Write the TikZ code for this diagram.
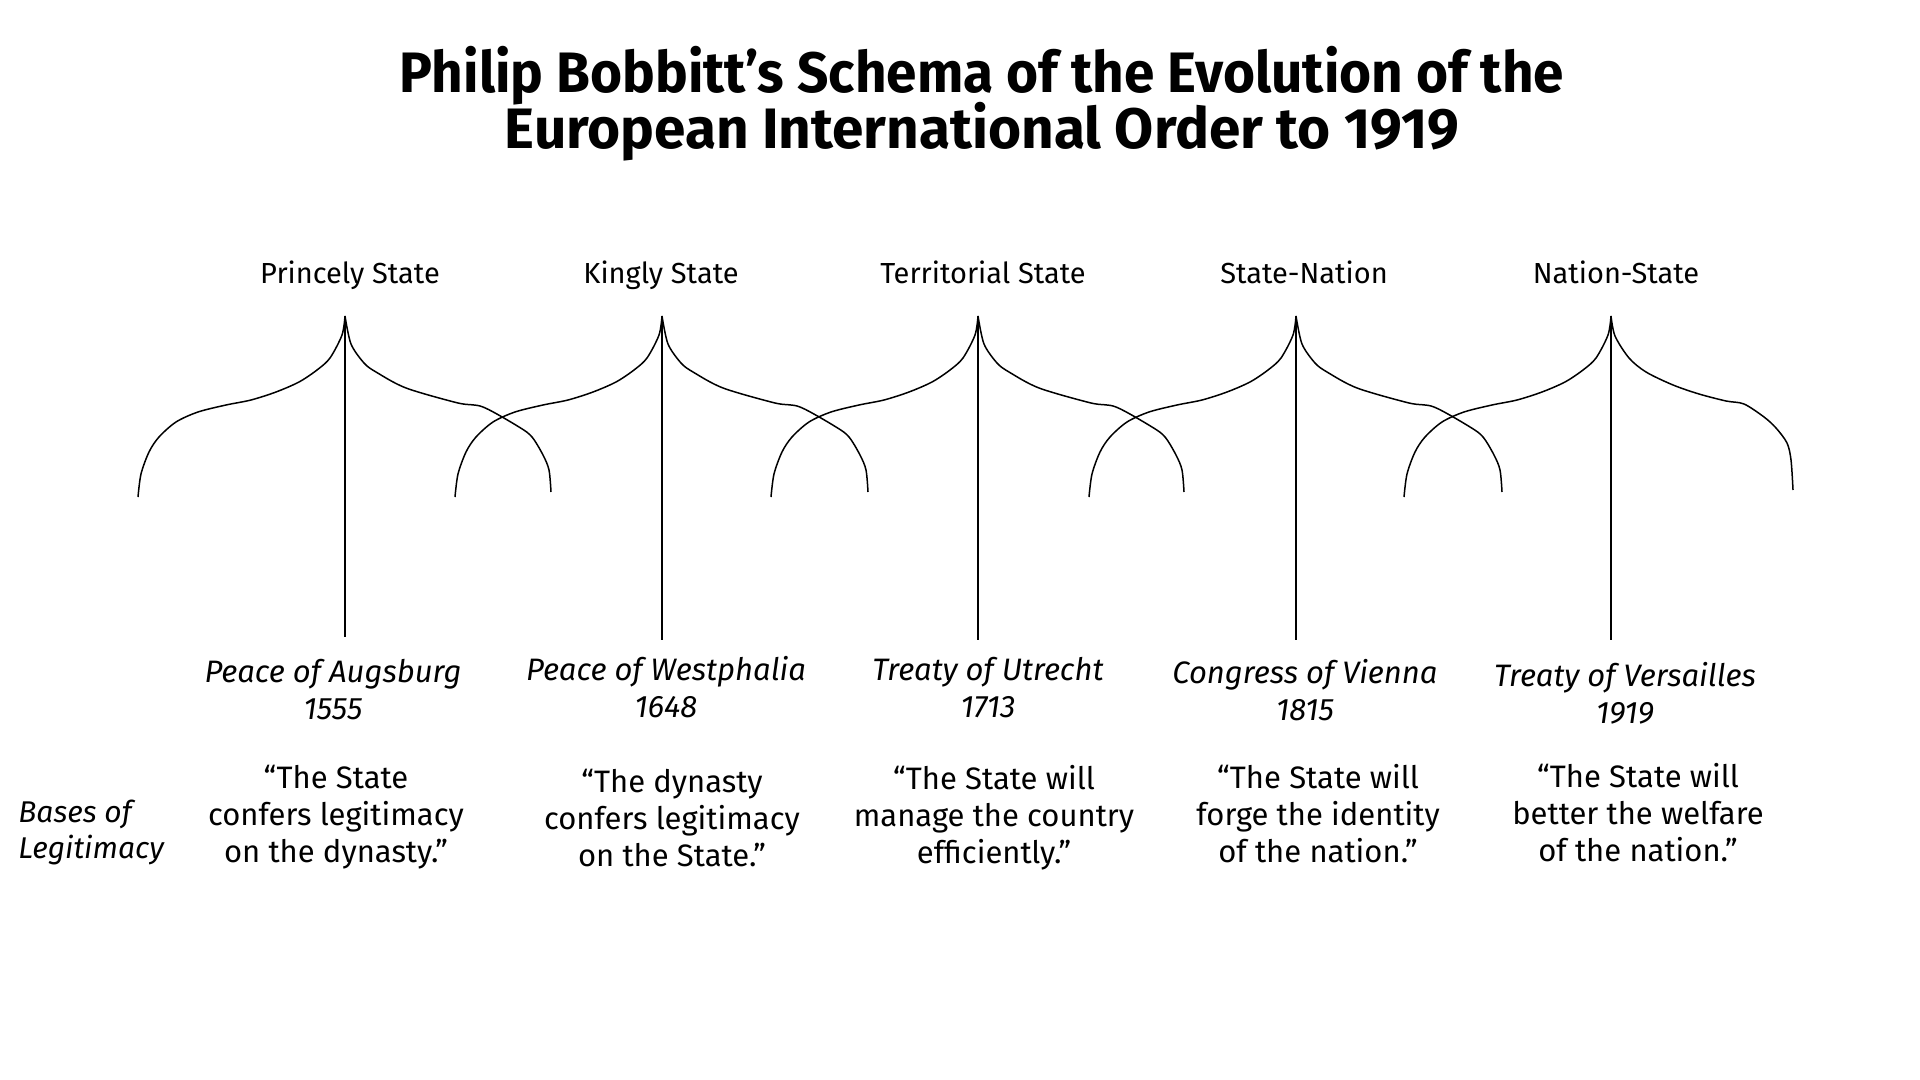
\documentclass[tikz,border=0pt]{standalone}
\usepackage{fontspec}
\setmainfont{Fira Sans}
\begin{document}
\begin{tikzpicture}[x=0.5pt,y=-0.5pt,
  titleline/.style={font=\fontsize{28.5}{34}\selectfont\bfseries, inner sep=0, anchor=base},
  toplabel/.style={font=\fontsize{14.5}{17}\selectfont, inner sep=0, anchor=base},
  event/.style={font=\fontsize{15.5}{18.5}\selectfont\itshape, align=center, inner sep=0},
  quote/.style={font=\fontsize{15.5}{18.5}\selectfont, align=center, inner sep=0},
  side/.style={font=\fontsize{15}{18}\selectfont\itshape, align=left, anchor=west, inner sep=0},
  stem/.style={line width=0.8pt},
  arm/.style={line width=0.75pt, line join=round}]
\useasboundingbox (0,0) rectangle (1920,1080);
\fill[white] (0,0) rectangle (1920,1080);

% title
\node[titleline] (t1) at (982,93) {\resizebox{582pt}{\height}{Philip Bobbitt’s Schema of the Evolution of the}};
\node[titleline] (t2) at (982,149) {\resizebox{477pt}{\height}{European International Order to 1919}};

% top labels
\node[toplabel] (l1) at (350,284) {Princely State};
\node[toplabel] (l2) at (661,284) {Kingly State};
\node[toplabel] (l3) at (983,284) {Territorial State};
\node[toplabel] (l4) at (1304,284) {State-Nation};
\node[toplabel] (l5) at (1616,284) {Nation-State};

% apexes and stem ends
\coordinate (a1) at (345,316); \coordinate (b1) at (345,637);
\coordinate (a2) at (662,316); \coordinate (b2) at (662,640);
\coordinate (a3) at (978,316); \coordinate (b3) at (978,640);
\coordinate (a4) at (1296,316); \coordinate (b4) at (1296,640);
\coordinate (a5) at (1611,316); \coordinate (b5) at (1611,640);

\foreach \i in {1,...,5} {
  \draw[stem] (a\i) -- (b\i);
  \draw[arm, shift={(a\i)}] plot[smooth, tension=0.5] coordinates {(0,0) (-3,19) (-15,42) (-28,54) (-46,66) (-69,76) (-94,84) (-119,89) (-147,96) (-169,106) (-186,121) (-196,136) (-204,158) (-207,181)};
}
\foreach \i in {1,...,4} {
  \draw[arm, shift={(a\i)}] plot[smooth, tension=0.5] coordinates {(0,0) (6,28) (19,47) (31,56) (61,72) (113,87) (138,91) (174,111) (187,121) (198,139) (204,154) (206,176)};
}
\draw[arm, shift={(a5)}] plot[smooth, tension=0.5] coordinates {(0,0) (4,20) (18,42) (35,56) (62,69) (88,78) (115,85) (133,88) (153,101) (165,112) (176,127) (180,144) (182,174)};

% events
\node[event] (e1) at (333,690) {Peace of Augsburg\\1555};
\node[event] (e2) at (666,687) {Peace of Westphalia\\1648};
\node[event] (e3) at (988,688) {Treaty of Utrecht\\1713};
\node[event] (e4) at (1305,690) {Congress of Vienna\\1815};
\node[event] (e5) at (1625,693) {Treaty of Versailles\\1919};

% quotes
\node[quote] (q1) at (336,817) {“The State\\confers legitimacy\\on the dynasty.”};
\node[quote] (q2) at (672,818) {“The dynasty\\confers legitimacy\\on the State.”};
\node[quote] (q3) at (994,818) {“The State will\\manage the country\\efficiently.”};
\node[quote] (q4) at (1318,814) {“The State will\\forge the identity\\of the nation.”};
\node[quote] (q5) at (1638,813) {“The State will\\better the welfare\\of the nation.”};

\node[side] (bl) at (18,832) {Bases of\\Legitimacy};
\end{tikzpicture}
\end{document}
